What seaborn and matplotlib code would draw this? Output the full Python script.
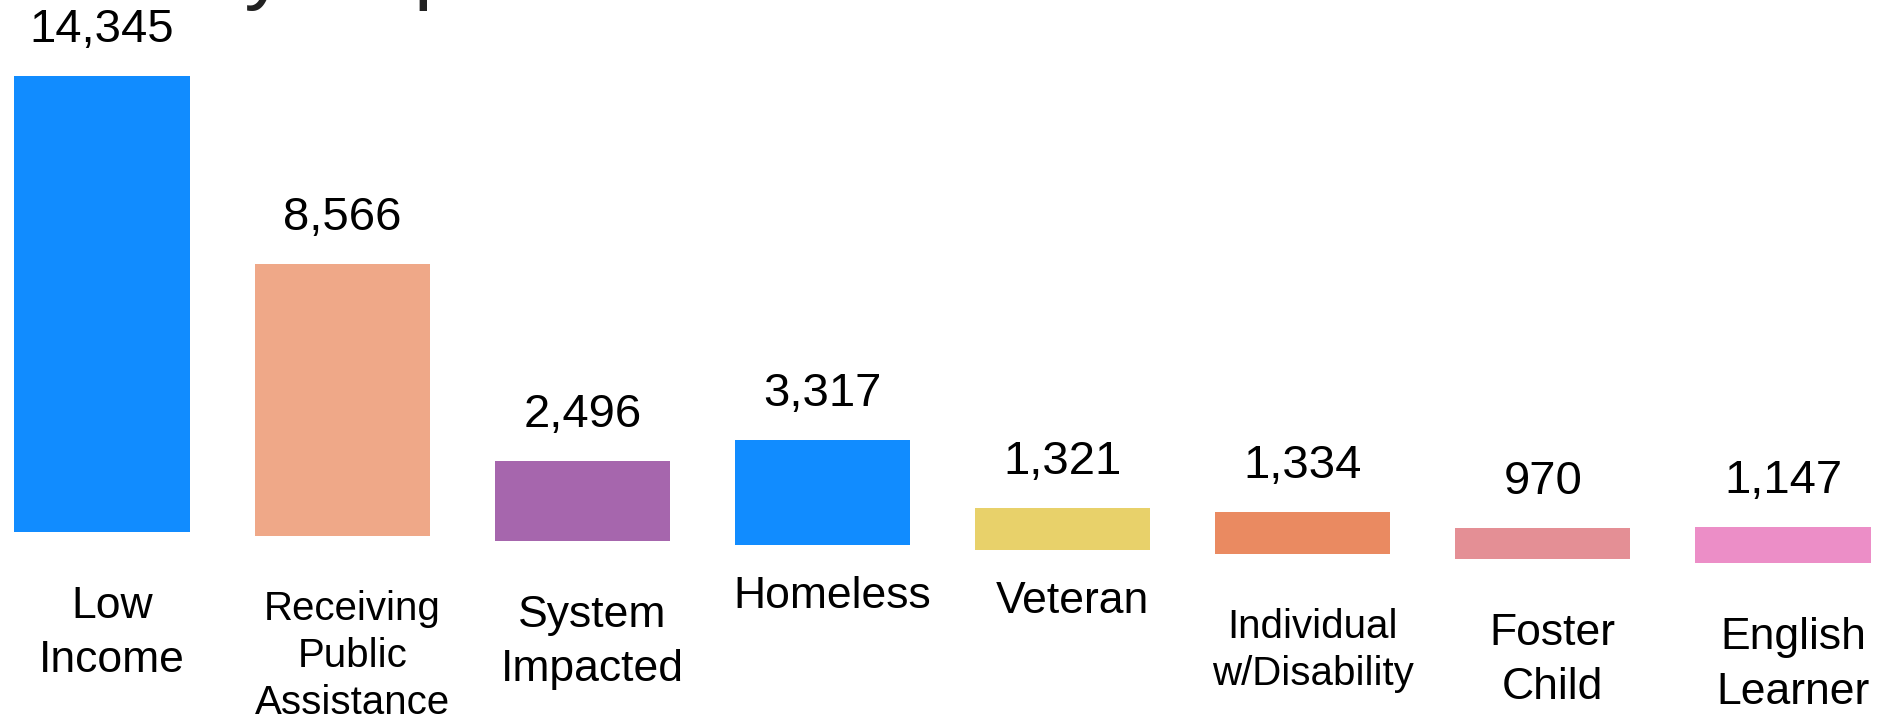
import numpy as np
import matplotlib
matplotlib.use("Agg")
import matplotlib.pyplot as plt
import seaborn as sns

# ------------------------ Data ------------------------
categories = ["Low\nIncome", "Receiving\nPublic\nAssistance", "System\nImpacted", "Homeless",
              "Veteran", "Individual\nw/Disability", "Foster\nChild", "English\nLearner"]
values = [14345, 8566, 2496, 3317, 1321, 1334, 970, 1147]
colors = ["#118CFF", "#EFA888", "#A666AD", "#118CFF", "#E8D16A", "#EA8A61", "#E48F95", "#EC8EC7"]
title_text = "Priority Populations"

# labels that use the smaller font in the slide
small_labels = ["Receiving\nPublic\nAssistance", "Individual\nw/Disability"]

# ------------------------ Style ------------------------
sns.set_style("white")
plt.rcParams['font.family'] = ['Liberation Sans', 'DejaVu Sans']

W, H, DPI = 1885, 719, 100
fig = plt.figure(figsize=(W / DPI, H / DPI), dpi=DPI)
ax = fig.add_axes([0, 0, 1, 1])

# pixel scale of the slide (px per unit) and the slight downward drift of the baseline
px_per_unit = 0.0318
base_px = 531.75           # baseline of first bar, px from top
tilt = 4.5 / px_per_unit   # drift per bar, in data units
bottoms = -tilt * np.arange(len(values))

# bars
sns.barplot(x=categories, y=values, bottom=bottoms, color=colors[0], width=0.73,
            errorbar=None, saturation=1, linewidth=0, ax=ax)
for bar, c in zip(ax.patches, colors):
    bar.set_facecolor(c)

# axis range so that the layout matches the slide
ax.set_xlim(-102 / 240.1, 7 + (W - 1783) / 240.1)
ymin = -(H - base_px) / px_per_unit
ax.set_ylim(ymin, ymin + H / px_per_unit)
ax.set_axis_off()

pt = 72 / DPI  # pixels -> points

# value labels above the bars
for i, (v, b) in enumerate(zip(values, bottoms)):
    ax.annotate(f"{v:,}", xy=(i, b + v), xytext=(0, 34 * pt), textcoords="offset points",
                ha="center", va="baseline", fontsize=34, color="black")

# category labels below the bars
for i, (lab, b) in enumerate(zip(categories, bottoms)):
    gap = 54 if "\n" in lab else 31
    if lab in small_labels:
        size, spacing = 29, 1.3
    else:
        size, spacing = 32, 1.42
    ax.annotate(lab, xy=(i, b), xytext=(10 * pt, -gap * pt), textcoords="offset points",
                ha="center", va="top", fontsize=size, linespacing=spacing, color="black")

# slide title, mostly cut off by the top edge (as in the slide)
fig.text(23 / W, 1 + 6.8 / H, title_text, fontsize=61, color="#222222",
         ha="left", va="baseline")

fig.savefig("out.png", dpi=DPI)
